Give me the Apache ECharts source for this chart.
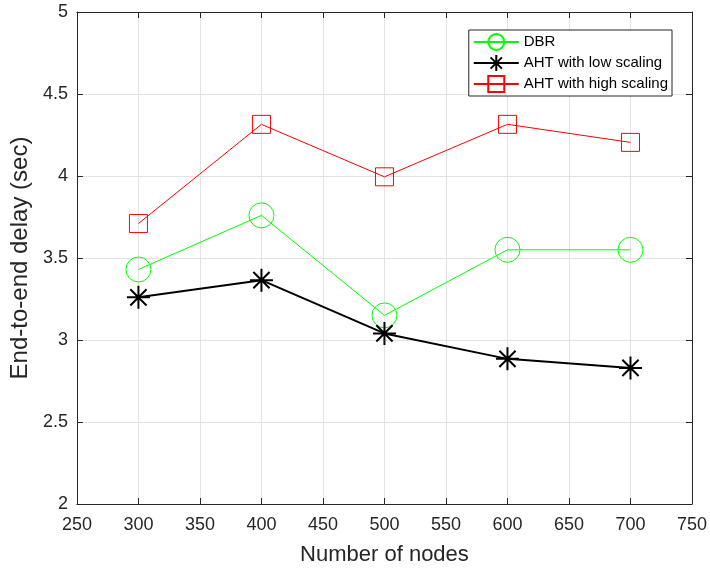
<!DOCTYPE html>
<html>
<head>
<meta charset="utf-8">
<script src="https://cdn.jsdelivr.net/npm/echarts@6/dist/echarts.min.js"></script>
<style>
html,body{margin:0;padding:0;background:#fff;}
#chart{width:710px;height:572px;}
</style>
</head>
<body>
<div id="chart"></div>
<script>
const nodes = [300, 400, 500, 600, 700];
const dbr = [3.43, 3.76, 3.15, 3.55, 3.55];
const ahtLow = [3.26, 3.365, 3.04, 2.885, 2.83];
const ahtHigh = [3.71, 4.315, 3.995, 4.315, 4.205];
const seriesNames = ['DBR', 'AHT with low scaling', 'AHT with high scaling'];

const font = 'Liberation Sans, Arial, Helvetica, sans-serif';
const axisColor = '#262626';
const asterisk = 'path://M0 -10L0 10M-10 0L10 0M-7.07 -7.07L7.07 7.07M-7.07 7.07L7.07 -7.07';

function pairs(ys) { return nodes.map((x, i) => [x, ys[i]]); }

const chart = echarts.init(document.getElementById('chart'), null, {renderer: 'canvas'});
const xBase = {
  type: 'value', min: 250, max: 750, interval: 50,
  axisLine: {show: true, onZero: false, lineStyle: {color: axisColor, width: 1}},
  axisTick: {show: true, inside: true, length: 6, lineStyle: {color: axisColor}},
  splitLine: {show: false}
};
const yBase = {
  type: 'value', min: 2, max: 5, interval: 0.5,
  axisLine: {show: true, onZero: false, lineStyle: {color: axisColor, width: 1}},
  axisTick: {show: true, inside: true, length: 6, lineStyle: {color: axisColor}},
  splitLine: {show: false}
};
chart.setOption({
  animation: false,
  backgroundColor: '#ffffff',
  textStyle: {fontFamily: font},
  grid: {left: 76, right: 18, top: 12, bottom: 68, containLabel: false},
  legend: {
    data: seriesNames,
    orient: 'vertical',
    right: 38, top: 30,
    padding: [3, 4, 3, 4],
    itemWidth: 45, itemHeight: 20, itemGap: 3,
    backgroundColor: '#ffffff',
    borderColor: axisColor, borderWidth: 1,
    textStyle: {fontFamily: font, fontSize: 15, color: '#000'}
  },
  xAxis: [
    Object.assign({}, xBase, {
      position: 'bottom',
      name: 'Number of nodes', nameLocation: 'middle', nameGap: 40,
      nameTextStyle: {fontFamily: font, fontSize: 22, color: axisColor},
      axisLabel: {show: true, margin: 12, fontFamily: font, fontSize: 18, color: axisColor},
      splitLine: {show: true, lineStyle: {color: '#e3e3e3', width: 1}}
    }),
    Object.assign({}, xBase, {position: 'top', axisLabel: {show: false}})
  ],
  yAxis: [
    Object.assign({}, yBase, {
      position: 'left',
      name: 'End-to-end delay (sec)', nameLocation: 'middle', nameGap: 40, nameRotate: 90,
      nameTextStyle: {fontFamily: font, fontSize: 24, color: axisColor},
      axisLabel: {show: true, margin: 9, fontFamily: font, fontSize: 18, color: axisColor},
      splitLine: {show: true, lineStyle: {color: '#e3e3e3', width: 1}}
    }),
    Object.assign({}, yBase, {position: 'right', axisLabel: {show: false}})
  ],
  series: [
    {
      name: seriesNames[0], type: 'line', data: pairs(dbr),
      xAxisIndex: 0, yAxisIndex: 0,
      symbol: 'circle', symbolSize: 25,
      lineStyle: {color: '#00ff00', width: 1},
      itemStyle: {color: 'rgba(0,0,0,0)', borderColor: '#00ff00', borderWidth: 1}
    },
    {
      name: seriesNames[1], type: 'line', data: pairs(ahtLow),
      xAxisIndex: 0, yAxisIndex: 0,
      symbol: asterisk, symbolSize: 23,
      lineStyle: {color: '#000000', width: 2},
      itemStyle: {color: 'rgba(0,0,0,0)', borderColor: '#000000', borderWidth: 2}
    },
    {
      name: seriesNames[2], type: 'line', data: pairs(ahtHigh),
      xAxisIndex: 0, yAxisIndex: 0,
      symbol: 'rect', symbolSize: 18,
      lineStyle: {color: '#ff0000', width: 1},
      itemStyle: {color: 'rgba(0,0,0,0)', borderColor: '#ff0000', borderWidth: 1}
    }
  ]
});
</script>
</body>
</html>
